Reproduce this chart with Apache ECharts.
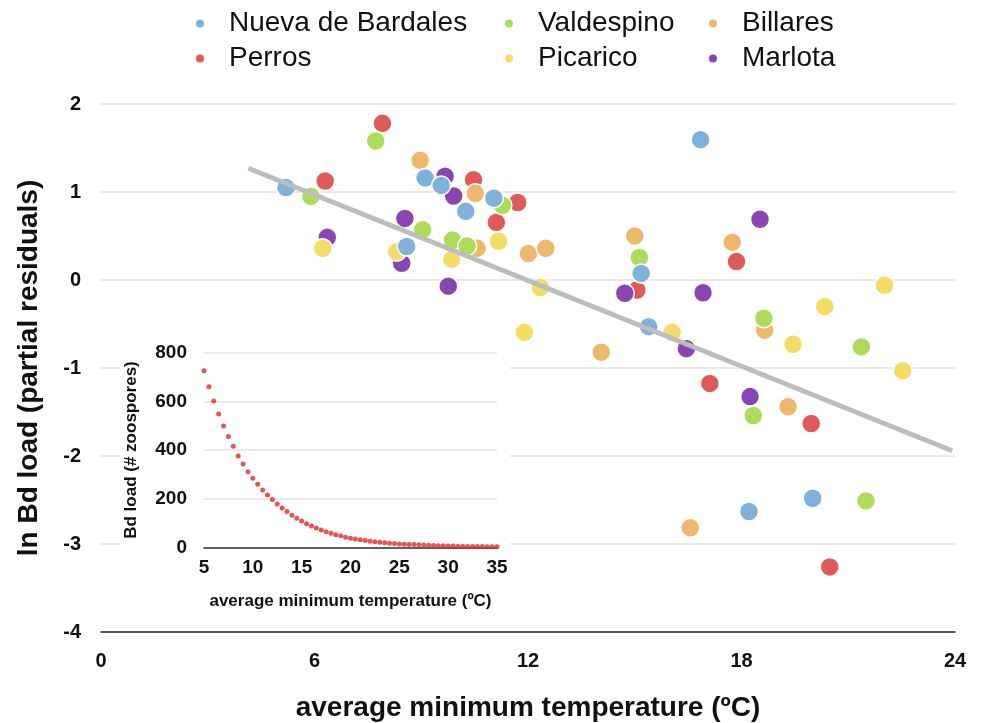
<!DOCTYPE html>
<html><head><meta charset="utf-8">
<script src="https://cdn.jsdelivr.net/npm/echarts@6/dist/echarts.min.js"></script>
<style>html,body{margin:0;padding:0;background:#fff}#c{width:981px;height:723px}</style>
</head><body><div id="c"></div>
<script>
var seriesNames = ['Nueva de Bardales','Perros','Valdespino','Picarico','Billares','Marlota'];
var nuevaDeBardales = [[5.20,1.05],[9.11,1.16],[9.56,1.075],[11.04,0.93],[10.25,0.78],[8.59,0.38],[16.85,1.595],[15.18,0.075],[15.39,-0.53],[20.0,-2.48],[18.21,-2.63]];
var valdespino = [[5.90,0.95],[7.72,1.58],[11.28,0.85],[9.04,0.57],[9.88,0.455],[10.29,0.385],[15.13,0.255],[18.63,-0.435],[21.37,-0.76],[18.33,-1.54],[21.5,-2.51]];
var perros = [[6.30,1.125],[7.91,1.78],[10.47,1.14],[11.71,0.88],[11.11,0.655],[15.06,-0.115],[17.86,0.21],[17.11,-1.175],[19.96,-1.63],[20.48,-3.26]];
var marlota = [[6.36,0.485],[9.67,1.18],[9.91,0.955],[8.54,0.70],[8.45,0.19],[9.76,-0.07],[18.52,0.69],[14.72,-0.15],[16.92,-0.145],[16.45,-0.78],[18.24,-1.325]];
var picarico = [[6.23,0.36],[8.31,0.32],[11.17,0.44],[9.86,0.235],[12.35,-0.085],[22.02,-0.06],[11.9,-0.595],[16.05,-0.595],[19.45,-0.73],[20.34,-0.30],[22.53,-1.03]];
var billares = [[8.97,1.36],[10.52,0.985],[10.57,0.36],[12.01,0.30],[12.5,0.36],[15.0,0.50],[17.74,0.43],[14.06,-0.82],[18.65,-0.57],[19.31,-1.44],[16.56,-2.815]];
var trendLine = [[4.14,1.27],[23.92,-1.94]];
var insetTemps = [5,5.5,6,6.5,7,7.5,8,8.5,9,9.5,10,10.5,11,11.5,12,12.5,13,13.5,14,14.5,15,15.5,16,16.5,17,17.5,18,18.5,19,19.5,20,20.5,21,21.5,22,22.5,23,23.5,24,24.5,25,25.5,26,26.5,27,27.5,28,28.5,29,29.5,30,30.5,31,31.5,32,32.5,33,33.5,34,34.5,35];
var insetLoads = [726,660,601,548,499,455,415,375,342,311,284,259,236,215,196,178,162,147,132,119,108,97,88,79,71,64,58,52,47,41,37,34,31,28,25,23,21,19,17,15.5,14,13,12,11,10,9,8,7.3,6.6,6,5.5,5,4.5,4.1,3.8,3.4,3.1,2.8,2.6,2.3,2.1];
var mainXTicks = [0,6,12,18,24];
var mainYTicks = [-4,-3,-2,-1,0,1,2];

var colors = {'Nueva de Bardales':'#7EB2DD','Perros':'#E05B57','Valdespino':'#ADDC5B','Picarico':'#F5DC66','Billares':'#EDB76C','Marlota':'#8B45B2'};
var dataMap = {'Nueva de Bardales':nuevaDeBardales,'Perros':perros,'Valdespino':valdespino,'Picarico':picarico,'Billares':billares,'Marlota':marlota};
var drawOrder = ['Perros','Billares','Marlota','Picarico','Valdespino','Nueva de Bardales'];
var FF = '"Liberation Sans", Arial, Helvetica, sans-serif';

var series = drawOrder.map(function(n){
  return {name:n,type:'scatter',xAxisIndex:0,yAxisIndex:0,data:dataMap[n],symbolSize:19,z:2,
    itemStyle:{color:colors[n],borderColor:'#fff',borderWidth:1.5,opacity:1}};
});
series.push({type:'line',xAxisIndex:0,yAxisIndex:0,data:trendLine,symbol:'none',z:3,
  lineStyle:{color:'#BDBDBD',width:5},silent:true});
series.push({type:'scatter',xAxisIndex:1,yAxisIndex:1,z:8,symbolSize:5,
  data:insetTemps.map(function(t,i){return [t,insetLoads[i]];}),
  itemStyle:{color:'#E02A2A'}});

function legendCol(left,names){
  return {orient:'vertical',left:left,top:3,itemWidth:48,itemHeight:10,itemGap:4,icon:'circle',
    data:names,textStyle:{fontFamily:FF,fontSize:28,color:'#111',lineHeight:31}};
}

var option = {
  animation:false,
  backgroundColor:'#fff',
  legend:[legendCol(189,['Nueva de Bardales','Perros']),legendCol(498,['Valdespino','Picarico']),legendCol(702,['Billares','Marlota'])],
  grid:[{left:101,right:26,top:104,bottom:91,outerBoundsMode:'none',containLabel:false},
        {left:204,right:484,top:352.7,bottom:175.7,outerBoundsMode:'none',containLabel:false}],
  graphic:[{type:'rect',shape:{x:120,y:335,width:390,height:283},style:{fill:'#fff'},z:5}],
  xAxis:[
    {type:'value',gridIndex:0,min:0,max:24,interval:6,
     name:'average minimum temperature (ºC)',nameLocation:'middle',nameGap:62,
     nameTextStyle:{fontFamily:FF,fontSize:28,fontWeight:'bold',color:'#111'},
     axisLine:{show:true,onZero:false,lineStyle:{color:'#222',width:1.5}},axisTick:{show:false},
     axisLabel:{fontFamily:FF,fontSize:20,fontWeight:'bold',color:'#111',margin:19},
     splitLine:{show:false}},
    {type:'value',gridIndex:1,min:5,max:35,interval:5,z:6,
     name:'average minimum temperature (ºC)',nameLocation:'middle',nameGap:46,
     nameTextStyle:{fontFamily:FF,fontSize:17,fontWeight:'bold',color:'#111'},
     axisLine:{show:true,onZero:false,lineStyle:{color:'#333',width:1.5}},axisTick:{show:false},
     axisLabel:{fontFamily:FF,fontSize:19,fontWeight:'bold',color:'#111',margin:11},
     splitLine:{show:false}}
  ],
  yAxis:[
    {type:'value',gridIndex:0,min:-4,max:2,interval:1,
     name:'ln Bd load (partial residuals)',nameLocation:'middle',nameGap:58,
     nameTextStyle:{fontFamily:FF,fontSize:28,fontWeight:'bold',color:'#111'},
     axisLine:{show:false},axisTick:{show:false},
     axisLabel:{fontFamily:FF,fontSize:20,fontWeight:'bold',color:'#111',margin:20},
     splitLine:{show:true,lineStyle:{color:'#E3E3E3',width:1.5}}},
    {type:'value',gridIndex:1,min:0,max:800,interval:200,z:6,
     name:'Bd load (# zoospores)',nameLocation:'middle',nameGap:64,
     nameTextStyle:{fontFamily:FF,fontSize:17,fontWeight:'bold',color:'#111'},
     axisLine:{show:false},axisTick:{show:false},
     axisLabel:{fontFamily:FF,fontSize:19,fontWeight:'bold',color:'#111',margin:17},
     splitLine:{show:true,lineStyle:{color:'#E3E3E3',width:1.5}}}
  ],
  series:series
};
var chart = echarts.init(document.getElementById('c'),null,{renderer:'canvas'});
chart.setOption(option);
</script></body></html>
